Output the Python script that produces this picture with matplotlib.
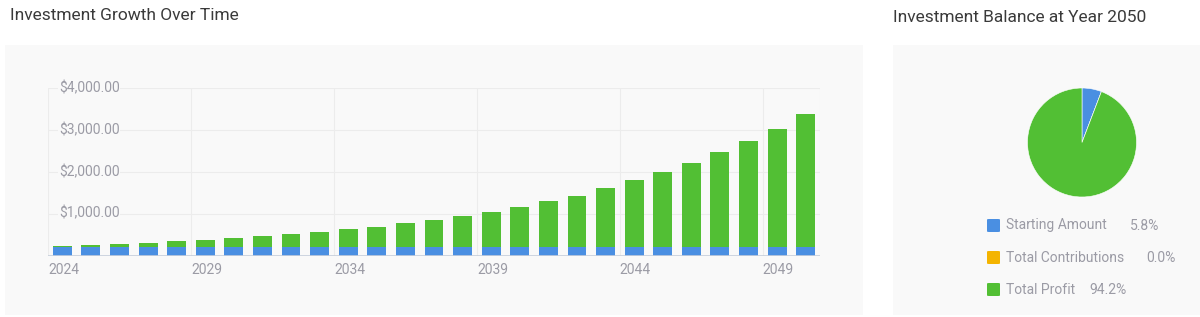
import numpy as np
import matplotlib
matplotlib.use("Agg")
from matplotlib import pyplot as plt
from matplotlib.patches import Rectangle, FancyBboxPatch

plt.rcParams['font.family'] = ['Roboto', 'DejaVu Sans']

# data
years = list(range(2024, 2051))
balance = [227, 250, 278, 310, 342, 376, 414, 455, 508, 560, 625, 690, 768, 852,
           940, 1050, 1160, 1290, 1425, 1610, 1795, 1990, 2210, 2460, 2730, 3030, 3370]
starting = [195] * len(years)
profit = [b - s for b, s in zip(balance, starting)]
y_ticks = [1000, 2000, 3000, 4000]

pie_labels = ['Starting Amount', 'Total Contributions', 'Total Profit']
pie_shares = [5.8, 0.0, 94.2]

BLUE = '#4a8fe2'
GREEN = '#52bf34'
YELLOW = '#f4b400'
PANEL = '#f9f9f9'
GRID = '#ececec'
TICK = '#9b9ba5'
TITLE = '#3a3a3a'

W, H = 1200, 317
fig = plt.figure(figsize=(W / 100, H / 100), dpi=100)
fig.patch.set_facecolor('white')


def fx(px):
    return px / W


def fy(py):
    return 1 - py / H


# panel backgrounds
fig.patches.append(Rectangle((fx(5), fy(315)), fx(858), 270 / H, transform=fig.transFigure,
                             facecolor=PANEL, edgecolor='none', zorder=-5))
fig.patches.append(Rectangle((fx(893), fy(315)), fx(310), 270 / H, transform=fig.transFigure,
                             facecolor=PANEL, edgecolor='none', zorder=-5))

fig.text(fx(10), fy(16), 'Investment Growth Over Time', fontsize=12.5, color=TITLE, va='center', ha='left')
fig.text(fx(893), fy(18), 'Investment Balance at Year 2050', fontsize=12.5, color=TITLE, va='center', ha='left')

# bar chart
ax = fig.add_axes([fx(48), fy(255.5), fx(820 - 48), (255.5 - 88) / H])
ax.set_facecolor(PANEL)
x = np.arange(len(years))
ax.bar(x, starting, width=0.66, color=BLUE, zorder=3)
ax.bar(x, profit, bottom=starting, width=0.66, color=GREEN, zorder=3)
ax.set_xlim(-0.5, len(years) - 0.5)
ax.set_ylim(0, 4000)
for s in ax.spines.values():
    s.set_visible(False)
ax.set_xticks([])
ax.set_yticks([])
for yt in y_ticks:
    ax.axhline(yt, color=GRID, lw=0.8, zorder=1)
    ax.text(-0.5 + 11 / 28.6, yt, f'${yt:,.2f}', fontsize=10, color=TICK,
            ha='left', va='center', zorder=2,
            bbox=dict(facecolor=PANEL, edgecolor='none', pad=0.5))
for i in list(range(0, len(years), 5)) + [len(years)]:
    ax.axvline(i - 0.5, color=GRID, lw=0.8, zorder=1)
for i in range(0, len(years), 5):
    ax.text(i - 0.5, -340, str(years[i]), fontsize=10, color=TICK, ha='left', va='center', clip_on=False)
ax.axhline(0, color='#c6cedb', lw=1.2, zorder=4)

# pie chart
r = 54.5
cx, cy = 1082, 142.5
pax = fig.add_axes([fx(cx - r), fy(cy + r), 2 * r / W, 2 * r / H])
pax.pie(pie_shares, colors=[BLUE, YELLOW, GREEN], startangle=90, counterclock=False,
        wedgeprops=dict(linewidth=0.4, edgecolor='white'))
pax.set_xlim(-1, 1)
pax.set_ylim(-1, 1)
pax.set_aspect('auto')
pax.axis('off')

# legend
rows = [225.5, 257.5, 289.5]
val_x = [1130, 1146, 1089]
for lab, share, col, ry, vx in zip(pie_labels, pie_shares, [BLUE, YELLOW, GREEN], rows, val_x):
    fig.patches.append(FancyBboxPatch((fx(987), fy(ry + 6.5)), fx(13), 13 / H,
                                      boxstyle='round,pad=0,rounding_size=0.002',
                                      transform=fig.transFigure, facecolor=col, edgecolor='none'))
    fig.text(fx(1006), fy(ry), lab, fontsize=10, color=TICK, ha='left', va='center')
    fig.text(fx(vx), fy(ry), f'{share:.1f}%', fontsize=10, color=TICK, ha='left', va='center')

plt.savefig('out.png', dpi=100)
plt.close()
